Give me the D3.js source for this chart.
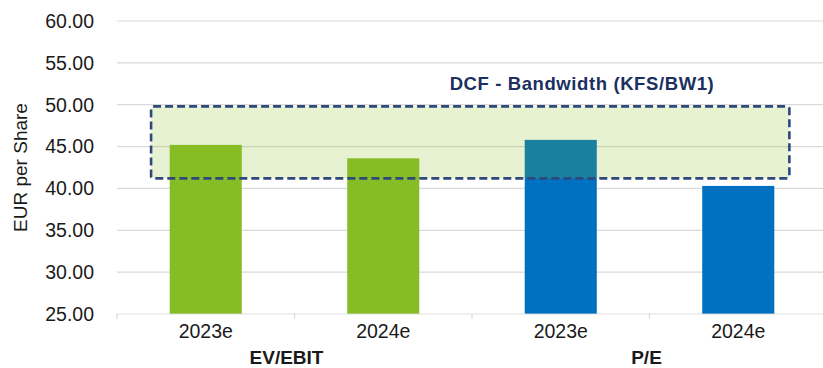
<!DOCTYPE html>
<html>
<head>
<meta charset="utf-8">
<script src="https://cdn.jsdelivr.net/npm/d3@7"></script>
<style>
  html, body { margin: 0; padding: 0; background: #fff; }
  svg { display: block; overflow: hidden; }
  text { font-family: "Liberation Sans", Arial, sans-serif; }
</style>
</head>
<body>
<svg id="chart" width="823" height="368"></svg>
<script>
// Valuation multiples (EUR per share) per method and year
const groups = ["EV/EBIT", "P/E"];
const years = ["2023e", "2024e"];
const evEbitValues = [45.2, 43.6];
const peValues = [45.8, 40.3];
const groupColors = ["#86bc25", "#0070c0"];

// DCF range shown as a shaded band
const dcfBand = [41.2, 49.8];
const dcfLabel = "DCF - Bandwidth (KFS/BW1)";

const yTicks = [25, 30, 35, 40, 45, 50, 55, 60];
const yTitle = "EUR per Share";

// flatten into one row per bar
const rows = [];
[evEbitValues, peValues].forEach((vals, g) => {
  vals.forEach((v, i) => rows.push({ key: g * years.length + i, group: g, year: years[i], value: v }));
});

const svg = d3.select("#chart");
const plotLeft = 117, plotRight = 827, plotTop = 21, plotBottom = 314;

const x = d3.scaleBand()
  .domain(rows.map(d => d.key))
  .range([plotLeft, plotRight])
  .paddingInner(0.594)
  .paddingOuter(0.297);
const step = x.step();

const y = d3.scaleLinear().domain([25, 60]).range([plotBottom, plotTop]);

// horizontal gridlines
svg.append("g")
  .selectAll("line")
  .data(yTicks.slice(1))
  .join("line")
  .attr("x1", plotLeft).attr("x2", 823)
  .attr("y1", d => y(d)).attr("y2", d => y(d))
  .attr("stroke", "#d9d9d9").attr("stroke-width", 1.2);

// y tick labels
svg.append("g")
  .selectAll("text")
  .data(yTicks)
  .join("text")
  .attr("x", 94)
  .attr("y", d => y(d))
  .attr("dy", "0.35em")
  .attr("text-anchor", "end")
  .attr("font-size", 19.5)
  .attr("fill", "#1a1a1a")
  .text(d => d3.format(".2f")(d));

// y axis title
svg.append("text")
  .attr("transform", `translate(27,${(plotTop + plotBottom) / 2}) rotate(-90)`)
  .attr("text-anchor", "middle")
  .attr("font-size", 19)
  .attr("fill", "#1a1a1a")
  .text(yTitle);

// bars
svg.append("g")
  .selectAll("rect")
  .data(rows)
  .join("rect")
  .attr("x", d => x(d.key))
  .attr("width", x.bandwidth())
  .attr("y", d => y(d.value))
  .attr("height", d => y(25) - y(d.value))
  .attr("fill", d => groupColors[d.group]);

// baseline axis
svg.append("line")
  .attr("x1", plotLeft).attr("x2", 823)
  .attr("y1", y(25)).attr("y2", y(25))
  .attr("stroke", "#d9d9d9").attr("stroke-width", 1.2).attr("stroke-opacity", 0.85);

// tick marks between categories
svg.append("g")
  .selectAll("line")
  .data(d3.range(rows.length + 1))
  .join("line")
  .attr("x1", i => plotLeft + i * step).attr("x2", i => plotLeft + i * step)
  .attr("y1", y(25)).attr("y2", y(25) + 5)
  .attr("stroke", "#d9d9d9").attr("stroke-width", 1.2);

// year labels
svg.append("g")
  .selectAll("text")
  .data(rows)
  .join("text")
  .attr("x", d => x(d.key) + x.bandwidth() / 2)
  .attr("y", 337.5)
  .attr("text-anchor", "middle")
  .attr("font-size", 19.5)
  .attr("fill", "#1a1a1a")
  .text(d => d.year);

// group labels
svg.append("g")
  .selectAll("text")
  .data(groups)
  .join("text")
  .attr("x", (d, g) => plotLeft + (g * years.length + years.length / 2) * step - (g === 0 ? 8 : 3))
  .attr("y", 364)
  .attr("text-anchor", "middle")
  .attr("font-size", 19)
  .attr("font-weight", "bold")
  .attr("fill", "#1a1a1a")
  .text(d => d);

// DCF band overlay
const bandX0 = plotLeft + 0.048 * (plotRight - plotLeft);
const bandX1 = plotLeft + 0.947 * (plotRight - plotLeft);
svg.append("rect")
  .attr("x", bandX0)
  .attr("y", y(dcfBand[1]))
  .attr("width", bandX1 - bandX0)
  .attr("height", y(dcfBand[0]) - y(dcfBand[1]))
  .attr("rx", 2)
  .attr("fill", "#86bc25")
  .attr("fill-opacity", 0.2)
  .attr("stroke", "#2e4a7d")
  .attr("stroke-width", 2.6)
  .attr("stroke-dasharray", "8,4");

svg.append("text")
  .attr("x", 582)
  .attr("y", 90)
  .attr("text-anchor", "middle")
  .attr("font-size", 18.5)
  .attr("font-weight", "bold")
  .attr("letter-spacing", 0.6)
  .attr("fill", "#1b2f61")
  .text(dcfLabel);
</script>
</body>
</html>
